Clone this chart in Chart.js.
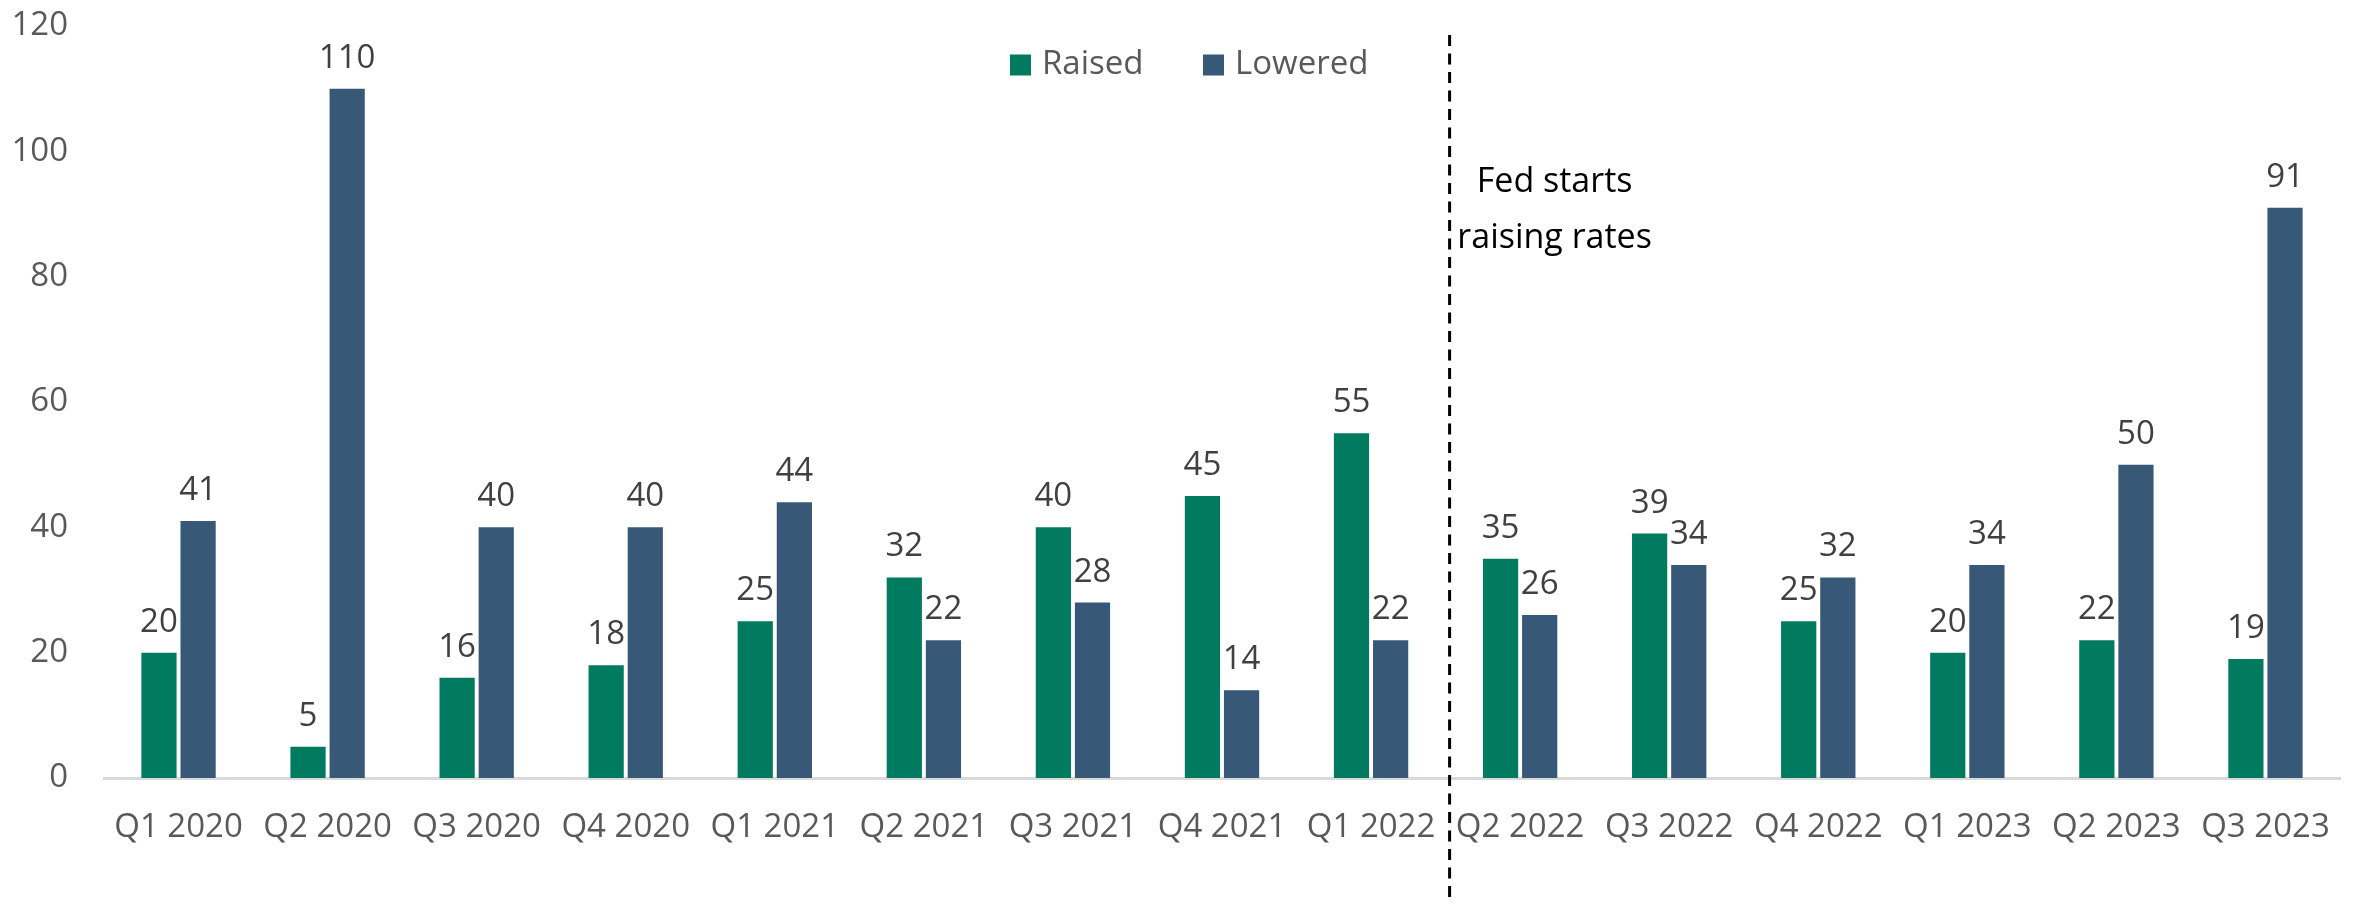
<!DOCTYPE html>
<html>
<head>
<meta charset="utf-8">
<script src="https://cdn.jsdelivr.net/npm/chart.js@4.4.1/dist/chart.umd.min.js"></script>
<style>
    html, body { margin: 0; padding: 0; background: #fff; }
    #wrap { width: 2357px; height: 904px; position: relative; }
</style>
</head>
<body>
<div id="wrap"><canvas id="rateChart" width="2357" height="904"></canvas></div>
<script>
// Chart data
const quarters = ["Q1 2020", "Q2 2020", "Q3 2020", "Q4 2020", "Q1 2021", "Q2 2021", "Q3 2021", "Q4 2021",
    "Q1 2022", "Q2 2022", "Q3 2022", "Q4 2022", "Q1 2023", "Q2 2023", "Q3 2023"];
const raised = [20, 5, 16, 18, 25, 32, 40, 45, 55, 35, 39, 25, 20, 22, 19];
const lowered = [41, 110, 40, 40, 44, 22, 28, 14, 22, 26, 34, 32, 34, 50, 91];
const yTicks = [0, 20, 40, 60, 80, 100, 120];
const fedStartIndex = 9; // first quarter after the Fed starts raising
const fedNote = ["Fed starts", "raising rates"];

const FONT = "'Open Sans', 'Noto Sans', sans-serif";
const green = "#007B5F";
const blue = "#385877";

// value labels above each bar
const barLabels = {
    id: "barLabels",
    afterDatasetsDraw(chart) {
        let ctx = chart.ctx;
        ctx.save();
        ctx.font = "33px " + FONT;
        ctx.fillStyle = "#404040";
        ctx.textAlign = "center";
        ctx.textBaseline = "alphabetic";
        chart.data.datasets.forEach((ds, i) => {
            chart.getDatasetMeta(i).data.forEach((bar, j) => {
                ctx.fillText(ds.data[j], bar.x, bar.y - 21);
            });
        });
        ctx.restore();
    }
};

// dashed divider + note
const fedLine = {
    id: "fedLine",
    afterDraw(chart) {
        let ctx = chart.ctx;
        let xs = chart.scales.x;
        let x = (xs.getPixelForValue(fedStartIndex - 1) + xs.getPixelForValue(fedStartIndex)) / 2 + 4;
        ctx.save();
        ctx.strokeStyle = "#000";
        ctx.lineWidth = 3;
        ctx.setLineDash([11, 7.5]);
        ctx.beginPath();
        ctx.moveTo(x, 35);
        ctx.lineTo(x, chart.height);
        ctx.stroke();
        ctx.setLineDash([]);
        ctx.font = "34px " + FONT;
        ctx.fillStyle = "#000";
        ctx.textAlign = "center";
        ctx.textBaseline = "alphabetic";
        ctx.fillText(fedNote[0], x + 105, 192);
        ctx.fillText(fedNote[1], x + 105, 248);
        ctx.restore();
    }
};

// legend drawn inside the plot, top centre
const innerLegend = {
    id: "innerLegend",
    afterDraw(chart) {
        let ctx = chart.ctx;
        let x = 1010;
        let y = 65;
        ctx.save();
        ctx.font = "33px " + FONT;
        ctx.textBaseline = "middle";
        ctx.textAlign = "left";
        chart.data.datasets.forEach(ds => {
            ctx.fillStyle = ds.backgroundColor;
            ctx.fillRect(x, y - 10.5, 21, 21);
            ctx.fillStyle = "#595959";
            ctx.fillText(ds.label, x + 32, y);
            x += 193;
        });
        ctx.restore();
    }
};

new Chart(document.getElementById("rateChart"), {
    type: "bar",
    data: {
        labels: quarters,
        datasets: [
            { label: "Raised", data: raised, backgroundColor: green },
            { label: "Lowered", data: lowered, backgroundColor: blue }
        ]
    },
    options: {
        responsive: false,
        animation: false,
        devicePixelRatio: 1,
        categoryPercentage: 0.525,
        barPercentage: 0.9,
        layout: { padding: { top: 26, right: 17, bottom: 0, left: 0 } },
        plugins: {
            legend: { display: false },
            tooltip: { enabled: false }
        },
        scales: {
            x: {
                grid: { display: false, drawTicks: false },
                border: { display: true, color: "#D9D9D9", width: 3 },
                ticks: {
                    color: "#595959",
                    font: { family: FONT, size: 33 },
                    padding: 30,
                    maxRotation: 0,
                    autoSkip: false
                },
                afterFit(scale) {
                    scale.height = 126;
                    scale.paddingLeft = 0;
                    scale.paddingRight = 0;
                }
            },
            y: {
                min: 0,
                max: 120,
                grid: { display: false, drawTicks: false },
                border: { display: false },
                afterBuildTicks(scale) {
                    scale.ticks = yTicks.map(v => ({ value: v }));
                },
                ticks: {
                    color: "#595959",
                    font: { family: FONT, size: 33 },
                    padding: 36
                },
                afterFit(scale) {
                    scale.width = 104;
                    scale.paddingTop = 0;
                    scale.paddingBottom = 0;
                }
            }
        }
    },
    plugins: [barLabels, fedLine, innerLegend]
});
</script>
</body>
</html>
